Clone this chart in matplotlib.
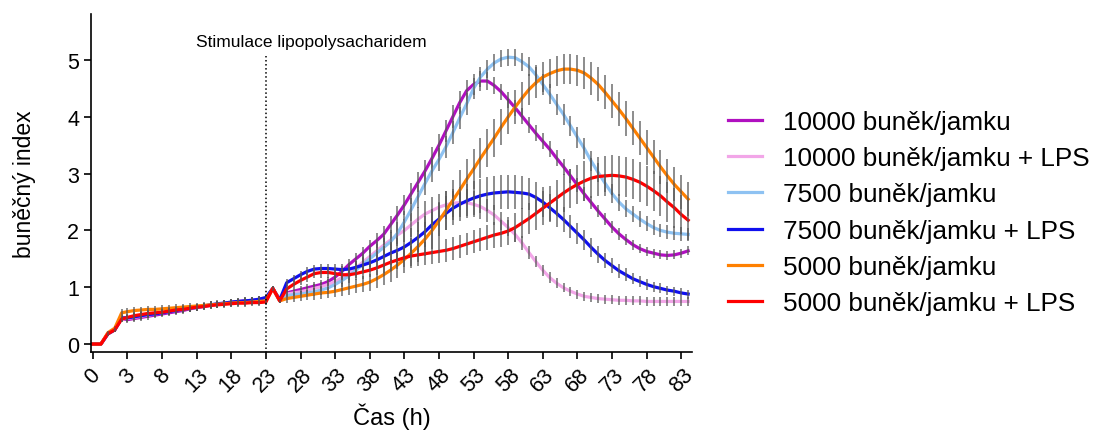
import numpy as np
import matplotlib
matplotlib.use("Agg")
import matplotlib.pyplot as plt

plt.rcParams['font.family'] = ['Liberation Sans', 'DejaVu Sans']

# time points (h): denser sampling in the first 3 hours, then hourly
HOURS = [0, 0.7, 1.3, 1.9, 2.5] + list(range(3, 85))

LABELS = ['10000 buněk/jamku', '10000 buněk/jamku + LPS', '7500 buněk/jamku',
          '7500 buněk/jamku + LPS', '5000 buněk/jamku', '5000 buněk/jamku + LPS']
COLORS = ['#B010C0', '#F2A6E8', '#8EC2F2', '#1010EE', '#FF8000', '#FF0000']
XTICKS = [0, 3, 8, 13, 18, 23, 28, 33, 38, 43, 48, 53, 58, 63, 68, 73, 78, 83]

cells_10000 = [0, 0, 0.18, 0.25, 0.45,
               0.43, 0.45, 0.47, 0.49, 0.51, 0.53, 0.55, 0.57, 0.59, 0.62, 0.64,
               0.66, 0.68, 0.70, 0.72, 0.73, 0.75, 0.76, 0.77, 0.78, 0.80,
               0.98, 0.76,
               0.90, 0.93, 0.96, 0.99, 1.02, 1.05, 1.10, 1.18, 1.28, 1.40,
               1.50, 1.60, 1.72, 1.82, 1.93, 2.10, 2.27, 2.45, 2.65, 2.85,
               3.05, 3.27, 3.50, 3.75, 4.00, 4.25, 4.46, 4.57, 4.63, 4.63,
               4.55, 4.44, 4.30, 4.16, 4.01, 3.86, 3.71, 3.57, 3.43, 3.27,
               3.12, 2.96, 2.80, 2.64, 2.49, 2.34, 2.20, 2.06, 1.94, 1.84,
               1.75, 1.68, 1.63, 1.60, 1.57, 1.56, 1.57, 1.60, 1.64]
cells_10000_lps = [0, 0, 0.18, 0.25, 0.46,
                   0.45, 0.47, 0.49, 0.51, 0.53, 0.55, 0.57, 0.59, 0.61, 0.63, 0.65,
                   0.67, 0.69, 0.70, 0.72, 0.73, 0.74, 0.75, 0.76, 0.77, 0.79,
                   0.98, 0.76,
                   0.88, 0.90, 0.92, 0.95, 0.98, 1.01, 1.05, 1.10, 1.17, 1.25,
                   1.34, 1.44, 1.54, 1.64, 1.74, 1.83, 1.92, 2.00, 2.10, 2.20,
                   2.29, 2.35, 2.41, 2.45, 2.48, 2.49, 2.49, 2.46, 2.42, 2.35,
                   2.27, 2.16, 2.05, 1.93, 1.78, 1.61, 1.45, 1.30, 1.17, 1.07,
                   0.99, 0.93, 0.88, 0.84, 0.82, 0.80, 0.79, 0.78, 0.77, 0.77,
                   0.76, 0.76, 0.75, 0.75, 0.75, 0.75, 0.75, 0.75, 0.75]
cells_7500 = [0, 0, 0.18, 0.25, 0.47,
              0.46, 0.48, 0.50, 0.52, 0.54, 0.56, 0.58, 0.60, 0.62, 0.63, 0.65,
              0.67, 0.69, 0.70, 0.72, 0.73, 0.74, 0.75, 0.76, 0.78, 0.80,
              0.98, 0.76,
              0.85, 0.87, 0.88, 0.90, 0.92, 0.95, 0.99, 1.05, 1.12, 1.20,
              1.30, 1.40, 1.50, 1.60, 1.70, 1.80, 1.95, 2.15, 2.37, 2.60,
              2.83, 3.05, 3.25, 3.47, 3.72, 3.98, 4.23, 4.50, 4.70, 4.84,
              4.95, 5.02, 5.05, 5.04, 4.97, 4.88, 4.74, 4.57, 4.40, 4.22,
              4.04, 3.84, 3.64, 3.44, 3.22, 3.02, 2.83, 2.65, 2.50, 2.38,
              2.29, 2.20, 2.12, 2.05, 2.00, 1.97, 1.95, 1.94, 1.93]
cells_7500_lps = [0, 0, 0.18, 0.25, 0.46,
                  0.46, 0.48, 0.50, 0.52, 0.53, 0.55, 0.57, 0.59, 0.61, 0.63, 0.65,
                  0.67, 0.69, 0.71, 0.72, 0.74, 0.75, 0.76, 0.77, 0.79, 0.82,
                  0.98, 0.78,
                  1.08, 1.15, 1.22, 1.28, 1.32, 1.33, 1.33, 1.32, 1.31, 1.32,
                  1.35, 1.39, 1.43, 1.48, 1.54, 1.60, 1.65, 1.71, 1.79, 1.88,
                  1.98, 2.10, 2.20, 2.30, 2.39, 2.46, 2.52, 2.57, 2.61, 2.64,
                  2.66, 2.67, 2.68, 2.67, 2.66, 2.64, 2.58, 2.50, 2.40, 2.30,
                  2.19, 2.07, 1.95, 1.83, 1.70, 1.58, 1.47, 1.38, 1.29, 1.22,
                  1.15, 1.10, 1.05, 1.01, 0.98, 0.95, 0.93, 0.90, 0.88]
cells_5000 = [0, 0, 0.20, 0.28, 0.55,
              0.57, 0.59, 0.60, 0.61, 0.61, 0.62, 0.63, 0.64, 0.65, 0.66, 0.67,
              0.68, 0.69, 0.70, 0.71, 0.72, 0.73, 0.73, 0.74, 0.75, 0.76,
              0.98, 0.76,
              0.80, 0.82, 0.84, 0.86, 0.88, 0.90, 0.91, 0.93, 0.96, 0.99,
              1.02, 1.05, 1.09, 1.15, 1.22, 1.30, 1.39, 1.49, 1.60, 1.72,
              1.85, 2.00, 2.17, 2.35, 2.53, 2.71, 2.90, 3.08, 3.27, 3.45,
              3.63, 3.82, 4.00, 4.17, 4.33, 4.48, 4.60, 4.70, 4.76, 4.81,
              4.84, 4.84, 4.82, 4.77, 4.68, 4.57, 4.43, 4.28, 4.13, 3.97,
              3.80, 3.63, 3.46, 3.29, 3.12, 2.96, 2.81, 2.68, 2.55]
cells_5000_lps = [0, 0, 0.18, 0.25, 0.44,
                  0.47, 0.50, 0.52, 0.54, 0.55, 0.56, 0.58, 0.60, 0.61, 0.63, 0.65,
                  0.66, 0.68, 0.69, 0.70, 0.71, 0.72, 0.72, 0.73, 0.73, 0.74,
                  0.98, 0.76,
                  0.97, 1.05, 1.12, 1.18, 1.24, 1.26, 1.26, 1.24, 1.22, 1.22,
                  1.24, 1.27, 1.30, 1.34, 1.39, 1.44, 1.48, 1.52, 1.55, 1.57,
                  1.59, 1.61, 1.63, 1.65, 1.68, 1.72, 1.76, 1.80, 1.84, 1.88,
                  1.92, 1.95, 1.99, 2.05, 2.13, 2.21, 2.30, 2.39, 2.48, 2.57,
                  2.66, 2.74, 2.81, 2.87, 2.92, 2.95, 2.96, 2.97, 2.96, 2.94,
                  2.90, 2.85, 2.78, 2.70, 2.61, 2.50, 2.40, 2.28, 2.18]

# standard deviations (error bars)
EARLY_SD = [0, 0, 0.03, 0.04, 0.06,
            0.06, 0.06, 0.06, 0.06, 0.06, 0.06, 0.06, 0.06, 0.06, 0.06, 0.06,
            0.06, 0.06, 0.06, 0.06, 0.06, 0.06, 0.06, 0.06, 0.06, 0.06,
            0.04, 0.04]
sd_10000 = EARLY_SD + [0.05, 0.05, 0.06, 0.06, 0.07, 0.07, 0.08, 0.08, 0.09, 0.10,
                       0.10, 0.11, 0.12, 0.13, 0.14, 0.15, 0.16, 0.17, 0.18, 0.18,
                       0.19, 0.20, 0.20, 0.20, 0.20, 0.20, 0.19, 0.18, 0.17, 0.16,
                       0.15, 0.14, 0.14, 0.14, 0.14, 0.14, 0.14, 0.14, 0.14, 0.14,
                       0.14, 0.13, 0.13, 0.12, 0.12, 0.11, 0.11, 0.10, 0.10, 0.09,
                       0.09, 0.08, 0.08, 0.08, 0.08, 0.08, 0.08, 0.08, 0.08]
sd_10000_lps = EARLY_SD + [0.05, 0.05, 0.06, 0.06, 0.07, 0.08, 0.09, 0.10, 0.11, 0.12,
                           0.13, 0.14, 0.15, 0.16, 0.17, 0.18, 0.19, 0.20, 0.21, 0.22,
                           0.23, 0.24, 0.24, 0.25, 0.25, 0.25, 0.24, 0.23, 0.22, 0.20,
                           0.18, 0.16, 0.14, 0.13, 0.12, 0.11, 0.10, 0.10, 0.09, 0.09,
                           0.08, 0.08, 0.08, 0.08, 0.08, 0.08, 0.08, 0.08, 0.08, 0.08,
                           0.08, 0.08, 0.08, 0.08, 0.08, 0.08, 0.08, 0.08, 0.08]
sd_7500 = EARLY_SD + [0.05, 0.05, 0.06, 0.06, 0.07, 0.08, 0.09, 0.10, 0.11, 0.12,
                      0.13, 0.14, 0.15, 0.16, 0.17, 0.18, 0.19, 0.20, 0.20, 0.20,
                      0.20, 0.20, 0.20, 0.20, 0.20, 0.20, 0.19, 0.18, 0.17, 0.16,
                      0.15, 0.15, 0.15, 0.15, 0.16, 0.17, 0.18, 0.18, 0.18, 0.18,
                      0.18, 0.18, 0.18, 0.18, 0.17, 0.17, 0.16, 0.16, 0.15, 0.15,
                      0.14, 0.14, 0.13, 0.13, 0.12, 0.12, 0.12, 0.12, 0.12]
sd_7500_lps = EARLY_SD + [0.06, 0.06, 0.07, 0.07, 0.07, 0.08, 0.08, 0.09, 0.10, 0.11,
                          0.12, 0.13, 0.14, 0.16, 0.18, 0.20, 0.22, 0.24, 0.25, 0.26,
                          0.27, 0.28, 0.29, 0.30, 0.30, 0.30, 0.30, 0.30, 0.30, 0.30,
                          0.30, 0.30, 0.30, 0.30, 0.29, 0.28, 0.27, 0.26, 0.25, 0.24,
                          0.22, 0.20, 0.18, 0.17, 0.16, 0.15, 0.14, 0.13, 0.12, 0.11,
                          0.10, 0.10, 0.09, 0.09, 0.09, 0.08, 0.08, 0.08, 0.08]
sd_5000 = EARLY_SD + [0.08, 0.08, 0.09, 0.09, 0.10, 0.10, 0.10, 0.11, 0.11, 0.12,
                      0.13, 0.14, 0.15, 0.16, 0.18, 0.20, 0.22, 0.24, 0.26, 0.28,
                      0.30, 0.32, 0.33, 0.34, 0.35, 0.35, 0.35, 0.35, 0.35, 0.34,
                      0.33, 0.32, 0.31, 0.30, 0.29, 0.28, 0.27, 0.26, 0.26, 0.26,
                      0.26, 0.26, 0.27, 0.28, 0.29, 0.30, 0.30, 0.30, 0.30, 0.30,
                      0.30, 0.30, 0.30, 0.30, 0.30, 0.30, 0.30, 0.30, 0.30]
sd_5000_lps = EARLY_SD + [0.07, 0.07, 0.08, 0.08, 0.08, 0.09, 0.09, 0.10, 0.10, 0.11,
                          0.11, 0.12, 0.12, 0.13, 0.14, 0.15, 0.16, 0.17, 0.18, 0.19,
                          0.20, 0.20, 0.20, 0.20, 0.20, 0.20, 0.20, 0.20, 0.21, 0.22,
                          0.23, 0.24, 0.25, 0.26, 0.27, 0.28, 0.29, 0.30, 0.31, 0.32,
                          0.33, 0.34, 0.35, 0.35, 0.35, 0.35, 0.35, 0.35, 0.35, 0.35,
                          0.35, 0.35, 0.35, 0.35, 0.35, 0.35, 0.35, 0.35, 0.35]

SERIES = [cells_10000, cells_10000_lps, cells_7500, cells_7500_lps, cells_5000, cells_5000_lps]
ERRORS = [sd_10000, sd_10000_lps, sd_7500, sd_7500_lps, sd_5000, sd_5000_lps]
STIM_HOUR = 23


# the original axis gives the first 3 hours the same width as 5 later hours
def forward(h):
    h = np.asarray(h, dtype=float)
    return np.where(h < 3, h * 5 / 3, h + 2)


def inverse(p):
    p = np.asarray(p, dtype=float)
    return np.where(p < 5, p * 3 / 5, p - 2)


fig = plt.figure(figsize=(10.95, 4.35), dpi=100)
ax = fig.add_axes([0.083, 0.1885, 0.549, 0.777])
ax.set_xscale('function', functions=(forward, inverse))

for vals, err, color, label in zip(SERIES, ERRORS, COLORS, LABELS):
    ax.plot(HOURS, vals, color=color, lw=2.3, label=label, zorder=2)
    ax.errorbar(HOURS, vals, yerr=err, fmt='none', ecolor='#555555',
                elinewidth=1.1, capsize=0, alpha=0.85, zorder=2)

ax.plot([STIM_HOUR, STIM_HOUR], [-0.15, 5.07], linestyle=':', color='black', lw=1.1)
ax.text(29.6, 5.33, 'Stimulace lipopolysacharidem', ha='center', va='center', fontsize=12.5)

ax.set_xlim(-0.17, 84.56)
ax.set_ylim(-0.14, 5.81)
ax.set_xticks(XTICKS)
ax.set_xticklabels([str(t) for t in XTICKS], rotation=45, ha='center')
ax.set_yticks([0, 1, 2, 3, 4, 5])
ax.tick_params(axis='both', labelsize=15.5, width=1.2, length=5, direction='out')
ax.spines['top'].set_visible(False)
ax.spines['right'].set_visible(False)
ax.spines['left'].set_linewidth(1.2)
ax.spines['bottom'].set_linewidth(1.2)

ax.set_xlabel('Čas (h)', fontsize=17, labelpad=5)
ax.set_ylabel('buněčný index', fontsize=16.5, labelpad=22)

fig.legend(loc='upper left', bbox_to_anchor=(0.665, 0.745), frameon=False,
           fontsize=18.8, handlelength=1.3, handletextpad=0.8, labelspacing=0.47,
           borderpad=0, borderaxespad=0)

fig.savefig('out.png', dpi=100)
